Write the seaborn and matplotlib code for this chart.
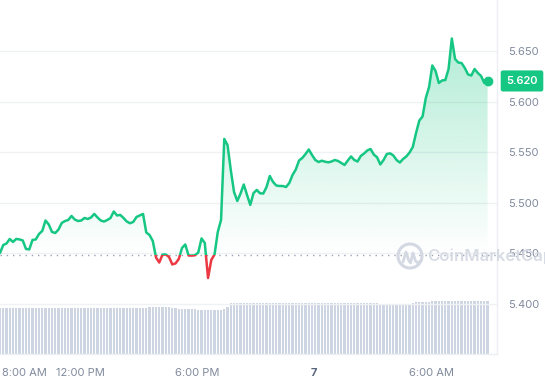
import matplotlib
matplotlib.use("Agg")
import matplotlib.pyplot as plt
import matplotlib.transforms as mtransforms
from matplotlib.patches import Rectangle, Circle
from matplotlib.lines import Line2D
from matplotlib.colors import to_rgb
import numpy as np
import pandas as pd
import seaborn as sns

# price every 10 minutes
prices = [
    5.4504, 5.4583, 5.4598, 5.4643, 5.4613, 5.4643, 5.4638, 5.4628, 5.4544, 5.4539,
    5.4633, 5.4638, 5.4692, 5.4722, 5.4825, 5.4786, 5.4712, 5.4702, 5.4736, 5.4801,
    5.4820, 5.4830, 5.4870, 5.4835, 5.4820, 5.4825, 5.4850, 5.4840, 5.4855, 5.4890,
    5.4855, 5.4825, 5.4815, 5.4830, 5.4850, 5.4914, 5.4875, 5.4880, 5.4850, 5.4815,
    5.4798, 5.4811, 5.4860, 5.4875, 5.4890, 5.4707, 5.4682, 5.4623, 5.4460, 5.4410,
    5.4489, 5.4489, 5.4465, 5.4391, 5.4401, 5.4445, 5.4554, 5.4588, 5.4480, 5.4478,
    5.4482, 5.4509, 5.4648, 5.4603, 5.4257, 5.4435, 5.4489, 5.4712, 5.4830, 5.5631,
    5.5571, 5.5324, 5.5107, 5.5018, 5.5092, 5.5181, 5.5077, 5.4979, 5.5097, 5.5127,
    5.5094, 5.5092, 5.5156, 5.5265, 5.5206, 5.5171, 5.5166, 5.5166, 5.5156, 5.5196,
    5.5275, 5.5329, 5.5418, 5.5443, 5.5482, 5.5527, 5.5472, 5.5423, 5.5403, 5.5416,
    5.5406, 5.5400, 5.5408, 5.5423, 5.5413, 5.5393, 5.5374, 5.5418, 5.5458, 5.5423,
    5.5408, 5.5463, 5.5487, 5.5517, 5.5532, 5.5477, 5.5450, 5.5379, 5.5423, 5.5482,
    5.5489, 5.5468, 5.5423, 5.5398, 5.5433, 5.5458, 5.5497, 5.5552, 5.5690, 5.5813,
    5.5853, 5.6036, 5.6144, 5.6357, 5.6302, 5.6184, 5.6209, 5.6213, 5.6322, 5.6624,
    5.6421, 5.6386, 5.6381, 5.6332, 5.6268, 5.6258, 5.6322, 5.6283, 5.6253, 5.6184,
    5.6204,
]

# 24h volume (millions), same timestamps
volumes = [
    139, 139, 138, 139, 139, 139, 138, 139, 139, 139,
    139, 138, 139, 139, 139, 139, 139, 138, 139, 139,
    139, 139, 139, 139, 138, 139, 139, 139, 139, 139,
    139, 139, 138, 139, 139, 139, 139, 139, 139, 139,
    138, 139, 139, 139, 139, 139, 140, 142, 142, 142,
    142, 142, 141, 137, 137, 136, 136, 136, 135, 135,
    134, 133, 132, 132, 132, 132, 132, 132, 133, 135,
    141, 152, 154, 154, 154, 154, 154, 154, 154, 154,
    154, 154, 154, 154, 154, 154, 154, 154, 154, 154,
    154, 154, 154, 154, 154, 154, 154, 154, 154, 154,
    154, 154, 154, 154, 154, 154, 154, 154, 154, 154,
    153, 153, 153, 153, 153, 152, 152, 150, 150, 150,
    150, 150, 150, 150, 151, 151, 151, 152, 155, 156,
    156, 156, 157, 158, 159, 159, 159, 159, 159, 159,
    159, 159, 159, 159, 159, 159, 158, 158, 158, 158,
    159,
]

start_time = "2024-03-06 07:54"
open_price = 5.4485
last_label = "5.620"
tick_times = ["2024-03-06 08:00", "2024-03-06 12:00", "2024-03-06 18:00",
              "2024-03-07 00:00", "2024-03-07 06:00"]
tick_labels = ["8:00 AM", "12:00 PM", "6:00 PM", "7", "6:00 AM"]
price_ticks = [5.40, 5.45, 5.50, 5.55, 5.60, 5.65]

GREEN = "#16c784"
RED = "#ea3943"
GREY = "#808a9d"

sns.set_theme(style="white")
plt.rcParams["font.family"] = ["Inter", "DejaVu Sans"]

times = pd.date_range(start_time, periods=len(prices), freq="10min")
df = pd.DataFrame({"time": times, "price": prices, "volume": volumes})

fig = plt.figure(figsize=(5.45, 3.8), dpi=100)
fig.patch.set_facecolor("white")
ax = fig.add_axes([0, 26 / 380, 497 / 545, 354 / 380])

sns.lineplot(data=df, x="time", y="price", ax=ax, color=GREEN, linewidth=1.8, zorder=5)
sns.lineplot(data=df, x="time", y="price", ax=ax, color=RED, linewidth=1.8, zorder=5)
green_line, red_line = ax.lines[-2], ax.lines[-1]

xmin = times[0]
xmax = times[0] + pd.Timedelta(minutes=1529)
ax.set_xlim(xmin, xmax)
ylim = (5.3506, 5.7004)
ax.set_ylim(*ylim)
x0, x1 = ax.get_xlim()

# colour above / below the opening price
green_line.set_clip_path(Rectangle((x0, open_price), x1 - x0, 1, transform=ax.transData))
red_line.set_clip_path(Rectangle((x0, open_price - 1), x1 - x0, 1, transform=ax.transData))

# gradient fill under the line
fill = ax.fill_between(df["time"], df["price"], open_price, color="none", lw=0)
grad = np.zeros((256, 1, 4))
grad[..., :3] = to_rgb(GREEN)
grad[..., 3] = np.linspace(0, 0.33, 256).reshape(-1, 1)
im = ax.imshow(grad, extent=[x0, x1, open_price, 5.66], origin="lower",
               aspect="auto", zorder=2, interpolation="bilinear")
im.set_clip_path(fill.get_paths()[0], transform=ax.transData)
ax.set_xlim(x0, x1)
ax.set_ylim(*ylim)

ax.axhline(open_price, color="#9aa3b5", lw=1, ls=(0, (1, 3.5)), zorder=3)

# volume bars
vax = ax.twinx()
vax.bar(df["time"], df["volume"], width=7 / 1440, color="#cdd4e2", linewidth=0)
vax.set_ylim(0, 1062)
vax.set_yticks([])
for sp in vax.spines.values():
    sp.set_visible(False)
ax.set_zorder(vax.get_zorder() + 1)
ax.patch.set_visible(False)

# axes styling
ax.set_xlabel("")
ax.set_ylabel("")
ax.grid(axis="y", color="#eff1f4", lw=1)
ax.grid(axis="x", visible=False)
for side in ["top", "left"]:
    ax.spines[side].set_visible(False)
for side in ["right", "bottom"]:
    ax.spines[side].set_color("#eceff3")
    ax.spines[side].set_linewidth(1)

ax.yaxis.tick_right()
ax.set_yticks(price_ticks)
ax.set_yticklabels([f"{v:.3f}" for v in price_ticks])
ax.tick_params(axis="y", length=0, pad=8, labelsize=8, labelcolor=GREY)

ax.set_xticks(pd.to_datetime(tick_times))
ax.set_xticklabels(tick_labels)
ax.tick_params(axis="x", length=4, color="#eceff3", pad=6, labelsize=8, labelcolor=GREY)
xt = ax.get_xticklabels()
xt[0].set_ha("left")
xt[3].set_fontweight("bold")
xt[3].set_color("#58667e")

# last price dot and tag
ax.plot(times[-1], prices[-1], "o", ms=6, color=GREEN, zorder=6, clip_on=False)
trans = mtransforms.blended_transform_factory(ax.transAxes, ax.transData)
ax.text(522 / 497, prices[-1], last_label, transform=trans, ha="center", va="center",
        color="white", fontsize=8, fontweight="semibold", zorder=10, clip_on=False,
        bbox=dict(boxstyle="round,pad=0.5,rounding_size=0.2", fc=GREEN, ec="none"))

# watermark
wm = "#d3d8e2"
fig.add_artist(Circle((4.10, 1.24), 0.12, transform=fig.dpi_scale_trans,
                      fill=False, ec=wm, lw=2.2, zorder=20))
wx = [4.03, 4.06, 4.085, 4.105, 4.13, 4.155, 4.18, 4.215]
wy = [1.18, 1.28, 1.20, 1.17, 1.27, 1.19, 1.17, 1.20]
fig.add_artist(Line2D(wx, wy, transform=fig.dpi_scale_trans, color=wm, lw=2.0,
                      solid_capstyle="round", zorder=20))
fig.text(4.27 / 5.45, 1.24 / 3.8, "CoinMarketCap", fontsize=12, color=wm,
         fontweight="semibold", ha="left", va="center", alpha=0.9, zorder=20)

fig.savefig("out.png", dpi=100, facecolor="white")
